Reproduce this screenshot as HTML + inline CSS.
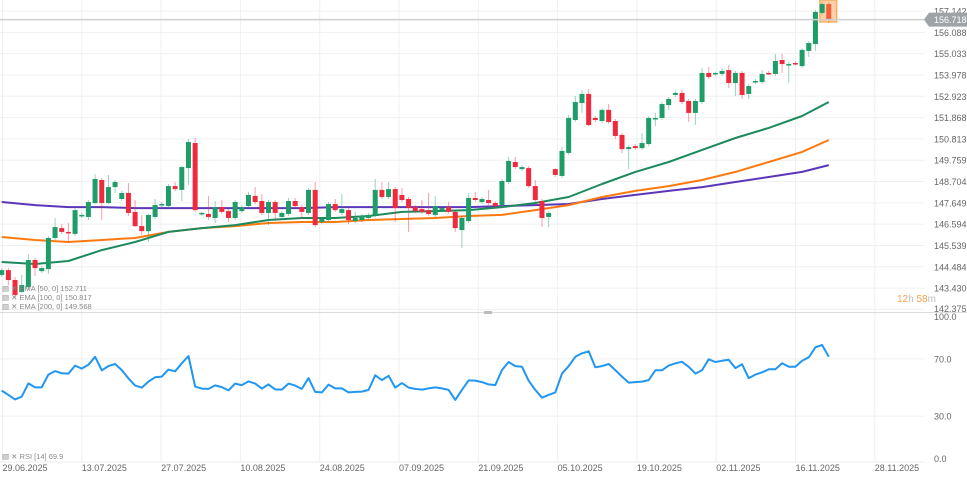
<!DOCTYPE html>
<html><head><meta charset="utf-8">
<style>
html,body{margin:0;padding:0;background:#fff;}
svg{display:block;font-family:"Liberation Sans",sans-serif;}
</style></head>
<body>
<svg id="chart" width="967" height="481" viewBox="0 0 967 481">
  <g id="grid"></g>
  <g id="ema"></g>
  <g id="candles"></g>
  <g id="rsi"></g>
  <g id="axes"></g>
</svg>
<script>
const opens=[144.08,144.32,143.83,143.24,143.48,144.82,144.27,144.37,145.91,146.40,146.21,146.11,147.00,146.95,147.64,148.78,147.64,148.43,147.84,148.14,147.20,146.50,146.25,146.95,147.54,147.49,148.48,148.29,149.37,150.61,147.10,147.10,146.90,147.44,147.24,146.90,147.24,147.49,147.99,147.74,147.15,147.69,146.95,147.10,147.74,147.44,147.15,148.29,146.70,146.80,147.59,147.15,147.29,146.75,146.80,146.90,147.05,148.29,147.94,148.33,148.04,147.84,147.44,147.34,147.29,147.05,147.29,147.44,147.20,146.30,146.75,147.89,147.69,147.79,147.64,147.54,148.68,149.67,149.32,149.37,148.48,147.74,146.95,149.32,148.98,150.12,151.75,152.59,153.04,151.85,151.70,152.25,151.70,151.01,150.31,150.46,150.36,150.56,151.80,151.85,152.49,152.99,153.09,152.69,152.10,152.64,154.08,154.03,154.03,154.22,153.58,154.08,153.04,153.63,153.63,154.08,154.03,154.72,154.47,154.57,154.42,155.17,155.51,157.05,157.49];
const highs=[144.42,144.42,143.98,144.08,145.12,144.92,144.52,146.01,146.90,146.60,146.65,147.39,147.15,147.79,149.08,148.88,149.03,148.78,148.24,148.63,147.79,147.05,147.10,147.84,147.69,148.58,148.68,149.47,150.81,150.86,147.20,147.99,147.74,147.79,147.34,147.79,147.54,148.19,148.43,148.09,147.79,147.79,147.24,147.89,147.89,147.54,148.38,148.68,146.95,147.69,147.84,148.09,147.39,147.20,147.10,147.15,148.83,148.68,148.68,148.43,148.38,147.94,147.54,147.79,148.14,147.99,147.49,147.69,147.29,147.00,148.14,148.19,147.94,148.29,147.74,148.83,149.92,149.92,149.52,149.47,148.78,147.84,147.24,149.37,150.41,152.00,152.94,153.24,153.28,151.95,152.34,152.54,151.80,151.11,150.51,150.56,151.11,151.95,152.10,152.64,152.89,153.19,153.24,152.79,152.79,154.32,154.37,154.14,154.32,154.47,154.18,154.18,153.53,153.78,154.22,154.18,155.02,155.02,154.62,154.67,155.31,155.66,157.19,157.59,157.59];
const lows=[143.98,143.58,142.94,143.19,143.34,144.03,144.18,144.13,145.81,146.11,145.71,146.01,146.90,146.80,147.59,146.80,147.59,148.14,147.74,147.00,146.45,146.06,145.71,146.85,147.44,147.39,148.24,147.74,148.53,147.20,147.00,146.80,146.65,147.10,146.70,146.80,147.15,147.39,147.59,147.05,146.55,146.80,146.85,147.00,147.39,146.85,147.05,146.45,146.60,146.70,147.20,147.05,146.60,146.65,146.70,146.80,146.95,147.84,147.84,146.70,147.69,146.21,147.15,147.10,147.00,146.95,147.20,147.10,146.21,145.41,146.65,147.69,147.59,147.54,147.39,147.44,148.58,149.32,149.22,148.38,147.69,146.45,146.45,148.93,148.88,150.02,151.65,152.10,151.45,151.65,151.60,151.55,150.81,150.12,149.32,150.27,150.27,150.46,151.45,151.75,152.25,152.89,152.54,151.65,151.50,152.54,153.78,153.93,153.93,153.33,152.94,152.79,152.79,153.53,153.53,153.98,153.93,154.08,153.58,154.47,154.32,154.87,155.17,156.95,156.55];
const closes=[144.32,143.83,143.09,143.58,144.82,144.42,144.42,145.91,146.45,146.21,146.16,147.29,147.05,147.69,148.83,147.64,148.43,148.68,148.14,147.15,146.50,146.25,147.05,147.54,147.59,148.48,148.33,149.42,150.66,147.29,147.15,146.95,147.44,147.20,146.90,147.69,147.44,148.04,147.69,147.15,147.69,147.15,147.15,147.74,147.49,147.20,148.29,146.55,146.85,147.59,147.29,147.34,146.80,146.90,147.00,147.05,148.29,147.94,148.33,147.39,147.79,147.39,147.24,147.20,147.10,147.49,147.39,147.20,146.40,146.90,147.89,147.79,147.84,147.64,147.49,148.73,149.72,149.42,149.42,148.48,147.79,146.90,147.15,149.03,150.22,151.85,152.64,153.04,151.50,151.75,152.25,151.65,150.96,150.31,150.41,150.36,150.61,151.85,151.85,152.54,152.79,153.09,152.64,152.10,152.69,154.08,153.88,154.08,154.18,153.58,154.08,152.99,153.43,153.68,154.03,154.03,154.67,154.52,154.52,154.52,155.22,155.56,157.10,157.49,156.718];
const emaIdx=[0,5,10,15,20,25,30,35,40,45,50,55,60,65,70,75,80,85,90,95,100,105,110,115,120,124];
const ema50=[144.72,144.62,144.77,145.31,145.71,146.21,146.40,146.55,146.80,146.90,146.90,147.00,147.20,147.24,147.29,147.44,147.64,147.94,148.58,149.18,149.67,150.27,150.86,151.36,151.95,152.64];
const ema100=[145.96,145.81,145.71,145.81,145.91,146.21,146.40,146.50,146.65,146.70,146.70,146.80,146.85,146.90,147.00,147.05,147.29,147.54,147.94,148.24,148.48,148.78,149.18,149.67,150.17,150.76];
const ema200=[147.69,147.54,147.44,147.44,147.39,147.39,147.39,147.39,147.39,147.39,147.44,147.44,147.44,147.44,147.44,147.49,147.54,147.59,147.84,148.04,148.24,148.43,148.68,148.93,149.18,149.52];
const rsi=[47.8,44.8,41.7,43.6,52.9,50.1,50.1,59.0,61.5,59.9,59.7,65.3,63.2,65.9,71.5,62.0,65.0,66.4,62.2,56.4,51.3,49.9,54.1,57.1,57.6,62.5,61.3,66.9,72.0,50.6,49.2,49.0,51.5,50.3,48.0,52.7,51.7,54.3,52.7,49.2,52.2,48.7,48.5,52.7,51.3,49.0,56.6,46.9,46.6,52.0,49.4,49.4,46.6,46.9,47.1,48.3,58.5,55.2,58.2,49.9,53.1,49.9,49.0,48.5,
49.4,50.1,49.4,48.3,41.3,48.3,55.0,54.8,53.8,52.2,51.7,62.2,67.8,65.0,64.5,54.8,48.3,42.9,44.8,46.6,59.7,65.0,71.5,73.9,75.3,64.1,65.0,66.4,62.2,57.6,53.4,53.8,54.1,55.2,62.0,62.0,65.3,66.9,68.0,64.5,59.7,62.2,69.7,67.8,68.7,69.4,63.6,66.2,56.6,59.0,60.6,62.7,62.7,66.9,64.5,64.5,68.7,71.1,78.1,79.7,71.5];
const priceTicks=["157.142","156.088","155.033","153.978","152.923","151.868","150.813","149.759","148.704","147.649","146.594","145.539","144.484","143.430","142.375"];
const rsiTicks=["100.0","70.0","30.0","0.0"];
const dateLabels=["29.06.2025","13.07.2025","27.07.2025","10.08.2025","24.08.2025","07.09.2025","21.09.2025","05.10.2025","19.10.2025","02.11.2025","16.11.2025","28.11.2025"];
const lastPrice="156.718";

const NS="http://www.w3.org/2000/svg";
function mk(tag,attrs,parent){const e=document.createElementNS(NS,tag);for(const k in attrs)e.setAttribute(k,attrs[k]);parent.appendChild(e);return e;}
function xOf(i){return 1.7+i*6.67;}
function yP(p){return (157.69-p)/0.0495;}
function yR(v){return 459-v*1.43;}
const G=document.getElementById('grid'),E=document.getElementById('ema'),C=document.getElementById('candles'),R=document.getElementById('rsi'),A=document.getElementById('axes');

for(let k=0;k<dateLabels.length;k++){
  const x=2.5+79.3*k;
  const l=mk('line',{x1:x,y1:0,x2:x,y2:462,stroke:'#f0f0f0','stroke-width':1},G);
  
  
  const t=mk('text',{x:x,y:471,'font-size':9,fill:'#666'},A);
  t.textContent=dateLabels[k];
  
  
}
priceTicks.forEach((s,k)=>{
  const y=yP(parseFloat(s));
  const l=mk('line',{x1:0,y1:y,x2:925,y2:y,stroke:'#f0f0f0','stroke-width':1},G);
  
  
  const ty=Math.min(y+3.5,312);
  const t=mk('text',{x:934,y:ty,'font-size':9,fill:'#666'},A);
  t.textContent=s;
  
  
});
rsiTicks.forEach(s=>{
  const v=parseFloat(s);const y=yR(v);
  if(v===70||v===30){
    const l=mk('line',{x1:0,y1:y,x2:925,y2:y,stroke:'#f0f0f0','stroke-width':1},G);
    
    
  }
  const ty=v===100?320:(v===0?462:y+3.5);
  const t=mk('text',{x:934,y:ty,'font-size':9,fill:'#666'},A);
  t.textContent=s;
  
  
});
const sep=mk('line',{x1:0,y1:312.5,x2:967,y2:312.5,stroke:'#dcdcdc','stroke-width':1},A);


const hd=mk('rect',{x:484,y:311,width:8,height:3,fill:'#bbb'},A);


const dl=mk('line',{x1:0,y1:462,x2:925,y2:462,stroke:'#eee','stroke-width':1},A);



const cy=yP(parseFloat(lastPrice));
const cl=mk('line',{x1:0,y1:cy,x2:925,y2:cy,stroke:'#cfcfcf','stroke-width':1.5},A);



function emaPath(arr,color,name){
  let d='';arr.forEach((v,k)=>{d+=(k?'L':'M')+xOf(emaIdx[k]).toFixed(1)+' '+yP(v).toFixed(1);});
  const p=mk('path',{d:d,fill:'none',stroke:color,'stroke-width':2,'stroke-linejoin':'round'},E);
  
  
}
emaPath(ema200,'#5b36b8','ema-200-line');
emaPath(ema100,'#fb7a10','ema-100-line');
emaPath(ema50,'#1c8a5c','ema-50-line');

const last=opens.length-1;
const hb=mk('rect',{x:xOf(last)-9,y:0,width:17,height:yP(lows[last])-1,fill:'rgba(250,150,60,0.45)',stroke:'#f59a3c','stroke-width':1},C);



for(let i=0;i<opens.length;i++){
  const up=closes[i]>=opens[i];
  let col=up?'#1f9d68':'#f02a3e';
  if(i===last) col='#f0603a';
  const x=xOf(i);
  const w=mk('line',{x1:x,y1:yP(highs[i]),x2:x,y2:yP(lows[i]),stroke:col,'stroke-opacity':0.45,'stroke-width':1},C);
  
  
  const t=yP(Math.max(opens[i],closes[i])),b=yP(Math.min(opens[i],closes[i]));
  const r=mk('rect',{x:x-2.5,y:t,width:5,height:Math.max(b-t,1.5),fill:col},C);
  
  
}

let rd='';rsi.forEach((v,i)=>{rd+=(i?'L':'M')+xOf(i).toFixed(1)+' '+yR(v).toFixed(1);});
const rp=mk('path',{d:rd,fill:'none',stroke:'#2196f3','stroke-width':2,'stroke-linejoin':'round'},R);



const tag=mk('path',{d:`M924 ${cy} L929 ${cy-7} L967 ${cy-7} L967 ${cy+7} L929 ${cy+7} Z`,fill:'#9ea3a8'},A);


const tt=mk('text',{x:934,y:cy+3.2,'font-size':9,fill:'#fff'},A);
tt.textContent=lastPrice;


</script>
<div style="position:absolute;left:2px;top:284px;font:7.5px 'Liberation Sans',sans-serif;color:#888;line-height:9px;">
  <div>▤ ✕ EMA [50, 0] 152.711</div>
  <div>▤ ✕ EMA [100, 0] 150.817</div>
  <div>▤ ✕ EMA [200, 0] 149.568</div>
</div>
<div style="position:absolute;left:2px;top:452px;font:7.5px 'Liberation Sans',sans-serif;color:#888;">▤ ✕ RSI [14] 69.9</div>
<div style="position:absolute;left:897px;top:294px;font:10px 'Liberation Sans',sans-serif;color:#bbb;"><span style="color:#f7a24a">12</span>h <span style="color:#f7a24a">58</span>m</div>
</body></html>
